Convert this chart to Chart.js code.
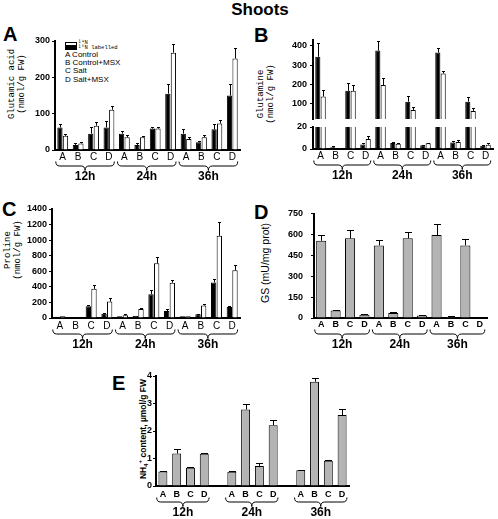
<!DOCTYPE html>
<html>
<head>
<meta charset="utf-8">
<script src="https://cdn.jsdelivr.net/npm/chart.js@4.4.0/dist/chart.umd.min.js"></script>
<style>
  body { margin: 0; background: #fff; font-family: "Liberation Sans", Arial, sans-serif; }
  #page { position: relative; width: 498px; height: 519px; overflow: hidden; background: #fff; }
  canvas { position: absolute; }
  .lbl { position: absolute; white-space: nowrap; color: #000; }
  .panel { font-weight: bold; font-size: 20px; line-height: 20px; }
  .ytitle { transform: translate(-50%, -50%) rotate(-90deg); text-align: center; }
  .mono { font-family: "Liberation Mono", "Courier New", monospace; font-size: 9px; line-height: 10px; }
  .box { position: absolute; width: 10px; height: 2px; border: 1px solid #000; }
</style>
</head>
<body>
<div id="page">
  <div class="lbl" style="left:260px;top:1px;transform:translateX(-50%);font-weight:bold;font-size:17px;line-height:17px">Shoots</div>

  <div class="lbl panel" style="left:3px;top:24px">A</div>
  <div class="lbl panel" style="left:254px;top:25px">B</div>
  <div class="lbl panel" style="left:2px;top:199px">C</div>
  <div class="lbl panel" style="left:254px;top:202px">D</div>
  <div class="lbl panel" style="left:112px;top:373px">E</div>

  <div class="lbl ytitle mono" style="left:17px;top:84px">Glutamic acid<br>(nmol/g FW)</div>
  <div class="lbl ytitle mono" style="left:266px;top:94px;line-height:9.5px">Glutamine<br>(nmol/g FW)</div>
  <div class="lbl ytitle mono" style="left:13px;top:250px">Proline<br>(nmol/g FW)</div>
  <div class="lbl ytitle" style="left:265px;top:263px;font-size:10.5px">GS (mU/mg prot)</div>
  <div class="lbl ytitle" style="left:143px;top:429px;font-size:8.5px;font-weight:bold">NH<sub style="font-size:6px">4</sub><sup style="font-size:6px">+</sup> content, µmol/g FW</div>

  <!-- legend of panel A -->
  <div class="box" style="left:65px;top:42px;background:#fff"></div>
  <div class="box" style="left:65px;top:46px;background:#000"></div>
  <div class="lbl mono" style="left:78px;top:40px;font-size:5.5px;line-height:5px">¹⁴N</div>
  <div class="lbl mono" style="left:78px;top:45px;font-size:5.5px;line-height:5px">¹⁵N labelled</div>
  <div class="lbl" style="left:65px;top:51px;font-size:8px;line-height:8.2px">A Control<br>B Control+MSX<br>C Salt<br>D Salt+MSX</div>

  <canvas id="cA" width="248" height="151" style="left:0;top:33px"></canvas>
  <canvas id="cBt" width="248" height="95" style="left:250px;top:32px"></canvas>
  <canvas id="cBb" width="248" height="64" style="left:250px;top:119px"></canvas>
  <canvas id="cC" width="248" height="151" style="left:0;top:201px"></canvas>
  <canvas id="cD" width="245" height="151" style="left:250px;top:201px"></canvas>
  <canvas id="cE" width="257" height="151" style="left:100px;top:368px"></canvas>
</div>

<script>
Chart.defaults.font.family = "'Liberation Sans', Arial, sans-serif";
Chart.defaults.color = '#000';

const groups = ['12h', '24h', '36h'];
const letters = ['A', 'B', 'C', 'D'];
const categories = groups.flatMap(() => letters);

// A  glutamic acid (nmol/g FW)
const gluN15 = [62, 14, 45, 62, 45, 14, 59, 155, 45, 21, 57, 150];
const gluN15Err = [10, 4, 17, 19, 6, 4, 3, 27, 14, 4, 15, 32];
const gluN14 = [39, 18, 67, 111, 35, 35, 59, 268, 30, 35, 73, 252];
const gluN14Err = [4, 3, 9, 11, 5, 4, 4, 23, 5, 5, 10, 30];

// B  glutamine (nmol/g FW), broken axis
const glnN15 = [343, 1.5, 166, 4.2, 375, 5.5, 110, 3.3, 365, 5.8, 110, 3];
const glnN15Err = [74, 0.9, 43, 0.9, 50, 0.9, 30, 0.4, 26, 1.5, 25, 0.6];
const glnN14 = [137, 0, 166, 9, 196, 4.8, 67, 5.2, 256, 6.4, 62, 3.9];
const glnN14Err = [33, 0, 31, 3, 38, 0.6, 16, 0.4, 14, 2.1, 14, 1.6];
const glnTopTicks = [100, 200, 300, 400];

// C  proline (nmol/g FW)
const proN15 = [17, 4, 151, 56, 21, 26, 306, 90, 21, 47, 457, 142];
const proN15Err = [0, 0, 17, 13, 0, 0, 52, 22, 0, 9, 47, 17];
const proN14 = [21, 4, 375, 211, 34, 116, 703, 453, 21, 160, 1056, 612];
const proN14Err = [0, 0, 47, 48, 13, 18, 77, 34, 0, 25, 177, 65];

// D  GS activity (mU/mg prot)
const gsVals = [554, 53, 572, 23, 521, 35, 572, 18, 595, 7, 521, 0];
const gsErr = [41, 7, 58, 5, 40, 11, 47, 5, 79, 5, 44, 0];

// E  NH4+ content (umol/g FW)
const nh4Vals = [0.53, 1.18, 0.66, 1.17, 0.52, 2.78, 0.73, 2.21, 0.57, 3.79, 0.92, 2.58];
const nh4Err = [0.03, 0.15, 0.02, 0.02, 0.02, 0.19, 0.1, 0.19, 0.03, 0.12, 0.04, 0.22];

// error bars + braces under the groups
const extras = {
  id: 'extras',
  afterDatasetsDraw(chart, args, o) {
    const ctx = chart.ctx, ys = chart.scales.y, a = chart.chartArea;
    ctx.save();
    ctx.beginPath();
    ctx.rect(a.left, a.top - 1, a.right - a.left, a.bottom - a.top + 1);
    ctx.clip();
    ctx.strokeStyle = '#000';
    ctx.lineWidth = 1;
    chart.data.datasets.forEach((ds, di) => {
      if (!ds.errors) return;
      chart.getDatasetMeta(di).data.forEach((bar, i) => {
        const v = ds.data[i], e = ds.errors[i];
        if (v == null || !e) return;
        const y0 = ys.getPixelForValue(v), y1 = Math.round(ys.getPixelForValue(v + e)) + 0.5;
        const x = Math.round(bar.x) + 0.5;
        ctx.beginPath();
        ctx.moveTo(x, y0);
        ctx.lineTo(x, y1);
        ctx.moveTo(x - o.cap / 2, y1);
        ctx.lineTo(x + o.cap / 2, y1);
        ctx.stroke();
      });
    });
    ctx.restore();
  },
  afterDraw(chart, args, o) {
    if (!o.groups) return;
    const ctx = chart.ctx, xs = chart.scales.x, base = chart.chartArea.bottom;
    const w = xs.getPixelForValue(1) - xs.getPixelForValue(0);
    ctx.save();
    ctx.strokeStyle = '#000';
    ctx.lineWidth = 1;
    ctx.fillStyle = '#000';
    ctx.font = "bold 12px 'Liberation Sans', Arial, sans-serif";
    ctx.textAlign = 'center';
    ctx.textBaseline = 'middle';
    o.groups.forEach((g, k) => {
      const x1 = xs.getPixelForValue(g[0]) - 0.45 * w, x2 = xs.getPixelForValue(g[1]) + 0.35 * w;
      const xm = (x1 + x2) / 2, top = base + 11.5, mid = top + 4.5, bot = top + 9, r = 4;
      ctx.beginPath();
      ctx.moveTo(x1, top);
      ctx.quadraticCurveTo(x1, mid, x1 + r, mid);
      ctx.lineTo(xm - r, mid);
      ctx.quadraticCurveTo(xm, mid, xm, bot);
      ctx.quadraticCurveTo(xm, mid, xm + r, mid);
      ctx.lineTo(x2 - r, mid);
      ctx.quadraticCurveTo(x2, mid, x2, top);
      ctx.stroke();
      ctx.fillText(o.names[k], xm, base + 26.5);
    });
    ctx.restore();
  }
};

function bars(data, errors, fill, pct) {
  return {
    data, errors,
    backgroundColor: fill, borderColor: '#000', borderWidth: 1, clip: 0,
    categoryPercentage: pct[0], barPercentage: pct[1]
  };
}

function panel(id, o) {
  const xFont = o.boldX ? {size: 9, weight: 'bold', lineHeight: 1} : {size: 10, lineHeight: 1};
  return new Chart(document.getElementById(id), {
    type: 'bar',
    data: {labels: o.labels || categories, datasets: o.datasets},
    options: {
      responsive: false,
      animation: false,
      events: [],
      layout: {padding: {top: 8, right: o.padRight ?? 8, bottom: o.padBottom ?? 0, left: 0}},
      plugins: {
        legend: {display: false},
        tooltip: {enabled: false},
        extras: {cap: o.cap, groups: o.hideX ? null : o.groups, names: groups}
      },
      scales: {
        x: {
          display: !o.hideX,
          grid: {display: false, drawTicks: false},
          border: {color: '#000', width: 2},
          ticks: {color: '#000', padding: o.xPad, font: xFont, autoSkip: false, maxRotation: 0},
          afterFit: s => { s.height = o.hideX ? 0 : (o.xHeight || 34); }
        },
        y: {
          min: o.min,
          max: o.max,
          afterBuildTicks: o.ticks ? s => { s.ticks = o.ticks.map(v => ({value: v})); } : undefined,
          ticks: {
            stepSize: o.step, color: '#000', padding: o.yPad,
            font: {size: 9, weight: 'bold', lineHeight: 1},
            callback: v => String(v)
          },
          grid: {drawOnChartArea: false, drawTicks: true, tickLength: 3, color: '#000', lineWidth: 1},
          border: {color: '#000', width: 2},
          afterFit: s => { s.width = o.yWidth; }
        }
      }
    },
    plugins: [extras]
  });
}

const pairPct = [0.72, 0.95];
const groupIdx = groups.map((g, k) => [k * 4, k * 4 + 3]);

panel('cA', {
  datasets: [bars(gluN15, gluN15Err, '#000', pairPct), bars(gluN14, gluN14Err, '#fff', pairPct)],
  min: 0, max: 300, step: 100, yWidth: 55, yPad: 2, xPad: 2, cap: 3, groups: groupIdx
});

panel('cBt', {
  datasets: [bars(glnN15, glnN15Err, '#000', pairPct), bars(glnN14, glnN14Err, '#fff', pairPct)],
  min: 20, max: 430, ticks: glnTopTicks, yWidth: 63, yPad: 3, cap: 3, hideX: true, padRight: 5, padBottom: 8
});

panel('cBb', {
  datasets: [bars(glnN15, glnN15Err, '#000', pairPct), bars(glnN14, glnN14Err, '#fff', pairPct)],
  min: 0, max: 20, step: 10, yWidth: 63, yPad: 3, xPad: 2, cap: 3, padRight: 5, groups: groupIdx
});

panel('cC', {
  datasets: [bars(proN15, proN15Err, '#000', pairPct), bars(proN14, proN14Err, '#fff', pairPct)],
  min: 0, max: 1400, step: 200, yWidth: 52, yPad: 2, xPad: 3, cap: 3, groups: groupIdx
});

panel('cD', {
  datasets: [bars(gsVals, gsErr, '#b4b4b4', [0.7, 1])],
  min: 0, max: 750, step: 150, yWidth: 64, yPad: 8, xPad: 2, cap: 7, boldX: true, groups: groupIdx
});

// E has an empty slot between the time groups
const withGap = arr => groups.flatMap((g, k) => {
  const part = arr.slice(k * 4, k * 4 + 4);
  return k < groups.length - 1 ? [...part, null] : part;
});
panel('cE', {
  labels: withGap(categories).map(l => l ?? ''),
  datasets: [bars(withGap(nh4Vals), withGap(nh4Err), '#b4b4b4', [0.65, 1])],
  min: 0, max: 4, step: 1, yWidth: 56, yPad: 1, xPad: 4, xHeight: 33, cap: 7, boldX: true,
  groups: groups.map((g, k) => [k * 5, k * 5 + 3])
});
</script>
</body>
</html>
